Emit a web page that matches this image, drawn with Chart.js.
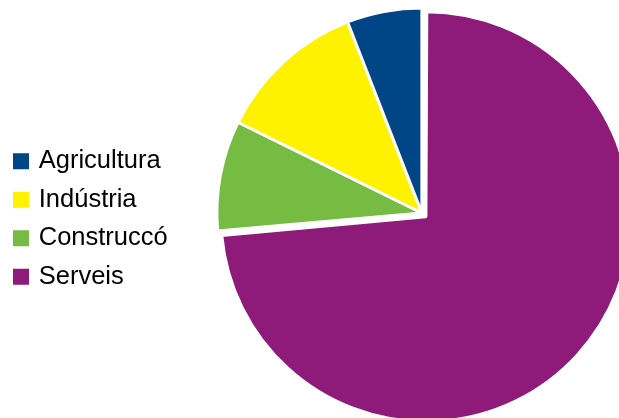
<!DOCTYPE html>
<html>
<head>
<meta charset="utf-8">
<script src="https://cdn.jsdelivr.net/npm/chart.js@4/dist/chart.umd.min.js"></script>
<style>
  html, body { margin: 0; padding: 0; overflow: hidden; background: #fff; }
  /* the pie runs past the right and bottom edges, so the box is wider than the page */
  #wrap { width: 666px; height: 426px; }
</style>
</head>
<body>
<div id="wrap"><canvas id="grafic"></canvas></div>
<script>
  // Població ocupada per sectors (%)
  const sectors = ["Agricultura", "Indústria", "Construccó", "Serveis"];
  const percentatges = [5.9, 11.8, 8.7, 73.6];
  const colors = ["#004586", "#fff200", "#77bc42", "#8e1a7a"];
  const separacio = [0, 0, 0, 22]; // Serveis surt una mica del pastís

  // el pastís es dibuixa en sentit horari, per això l'ordre va invertit
  const inv = (a) => a.slice().reverse();

  const baseLabels = Chart.overrides.pie.plugins.legend.labels.generateLabels;

  // Chart.js fa créixer el radi de l'arc desplaçat; el tornem a la mida de la resta
  const radiIgual = {
    id: "radiIgual",
    afterUpdate(chart) {
      chart.getDatasetMeta(0).data.forEach((arc) => {
        const off = arc.options.offset || 0;
        if (off) arc.outerRadius -= off / 4;
      });
    },
  };

  new Chart(document.getElementById("grafic"), {
    type: "pie",
    data: {
      labels: inv(sectors),
      datasets: [{
        data: inv(percentatges),
        backgroundColor: inv(colors),
        borderColor: "#fff",
        borderWidth: 3,
        offset: inv(separacio),
      }],
    },
    options: {
      responsive: true,
      maintainAspectRatio: false,
      animation: false,
      radius: 205,
      layout: { padding: { left: 3 } },
      plugins: {
        tooltip: { enabled: false },
        legend: {
          position: "left",
          reverse: true,
          // títol buit: només baixa una mica la llegenda
          title: { display: true, text: "", font: { size: 10 }, padding: 0 },
          labels: {
            color: "#000",
            font: { family: "'Liberation Sans', Arial, sans-serif", size: 25.5 },
            usePointStyle: true,
            pointStyle: "rect",
            boxWidth: 10,
            boxHeight: 16,
            padding: 13,
            generateLabels(chart) {
              return baseLabels(chart).map((l) => Object.assign(l, { lineWidth: 0, pointStyle: "rect" }));
            },
          },
        },
      },
    },
    plugins: [radiIgual],
  });
</script>
</body>
</html>
